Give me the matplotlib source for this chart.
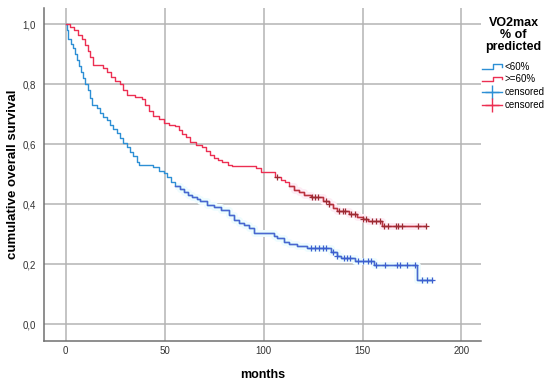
import numpy as np
import matplotlib
matplotlib.use('Agg')
import matplotlib.pyplot as plt
from matplotlib.lines import Line2D
from matplotlib.legend_handler import HandlerBase
from matplotlib.ticker import FuncFormatter

plt.rcParams['font.family'] = ['Liberation Sans', 'DejaVu Sans']

# Kaplan-Meier steps (time in months, survival after the step)
low_t = [0, 0.7, 1.3, 2.5, 3.5, 4.5, 5.6, 6.5, 7.5, 8.5, 9.5, 11, 12, 13.2, 15.7, 17.5, 19,
         20.8, 22.5, 24, 26, 27.5, 29, 31, 32.6, 34, 36, 37, 44, 47, 49.5, 51, 53, 55, 57.5,
         60, 62, 64, 66.5, 68, 71.6, 75, 78.3, 82.5, 85, 87.5, 90, 92.7, 95.2, 105.4, 107,
         110.4, 113, 117, 122, 134, 137, 139, 146, 156, 177.7, 185]
low_s = [1.0, 0.98, 0.95, 0.935, 0.92, 0.90, 0.88, 0.86, 0.84, 0.82, 0.80, 0.78, 0.755, 0.73,
         0.72, 0.705, 0.69, 0.68, 0.665, 0.65, 0.637, 0.62, 0.603, 0.59, 0.575, 0.56, 0.541,
         0.532, 0.525, 0.51, 0.503, 0.49, 0.475, 0.462, 0.45, 0.44, 0.432, 0.425, 0.418, 0.41,
         0.398, 0.39, 0.381, 0.364, 0.348, 0.337, 0.33, 0.32, 0.303, 0.295, 0.287, 0.275,
         0.268, 0.262, 0.253, 0.239, 0.228, 0.22, 0.211, 0.198, 0.148, 0.148]
low_cens = [124, 126, 128, 130, 131.5, 135, 137, 140.4, 142, 143.7, 147.7, 150, 152.8, 154.5,
            157, 161.3, 167.2, 169, 172.3, 176.5, 180, 182.5, 185]

high_t = [0, 2, 4, 6, 8, 9.5, 11, 12.5, 14, 19, 21, 23, 25, 27.5, 29, 31, 35, 38.5, 40, 42,
          44, 47, 49.5, 52, 55, 57, 59, 61, 63, 66, 69, 71, 73, 75, 77, 79, 82, 84, 96, 98.5,
          106, 109, 111, 113, 115.5, 118, 120.5, 124, 130, 133, 135, 137, 143, 147, 150, 153,
          160, 182]
high_s = [1.0, 0.99, 0.98, 0.965, 0.95, 0.93, 0.91, 0.89, 0.865, 0.855, 0.84, 0.825, 0.81,
          0.80, 0.78, 0.765, 0.758, 0.75, 0.73, 0.71, 0.695, 0.685, 0.672, 0.665, 0.66, 0.648,
          0.635, 0.625, 0.608, 0.598, 0.59, 0.578, 0.564, 0.555, 0.548, 0.54, 0.53, 0.526,
          0.52, 0.508, 0.49, 0.482, 0.475, 0.462, 0.448, 0.44, 0.43, 0.423, 0.41, 0.40, 0.388,
          0.378, 0.368, 0.358, 0.352, 0.344, 0.327, 0.327]
high_cens = [107, 124.5, 126, 127.5, 131.5, 133, 138, 140, 141, 144, 146, 150, 152, 155, 157,
             159, 161, 163, 167, 168, 170, 178, 182]

x_ticks = [0, 50, 100, 150, 200]
y_ticks = [0.0, 0.2, 0.4, 0.6, 0.8, 1.0]
labels = ['<60%', '>=60%', 'censored', 'censored']

blue = '#2d8fd5'
red = '#ec2f52'
blue_late = '#4a66d0'
red_late = '#b8333f'
blue_mark = '#3d5fcf'
red_mark = '#9b2b33'


def step_value(t, s, x):
    i = np.searchsorted(t, x, side='right') - 1
    return np.asarray(s)[i]


def late_part(t, s, start):
    t = np.asarray(t)
    m = t >= start
    return t[m], np.asarray(s)[m]


class StepHandler(HandlerBase):
    def create_artists(self, legend, orig, xd, yd, w, h, fontsize, trans):
        xs = [-xd, -xd + w * 0.55, -xd + w * 0.55, -xd + w, -xd + w]
        ys = [-yd + h * 0.15, -yd + h * 0.15, -yd + h * 0.75, -yd + h * 0.75, -yd + h * 0.45]
        ln = Line2D(xs, ys, color=orig.get_color(), lw=1.0, transform=trans)
        return [ln]


fig = plt.figure(figsize=(5.5, 3.83), dpi=100)
ax = fig.add_axes([0.08, 0.11, 0.795, 0.869])

# pale halo along the later part of each curve
bt, bs = late_part(low_t, low_s, 55)
rt, rs = late_part(high_t, high_s, 113)
ax.step(bt, bs, where='post', color='#effcfe', lw=5, zorder=2, solid_capstyle='butt')
ax.step(rt, rs, where='post', color='#fdedf5', lw=5, zorder=2, solid_capstyle='butt')

ax.step(low_t, low_s, where='post', color=blue, lw=1.0, zorder=3)
ax.step(high_t, high_s, where='post', color=red, lw=1.0, zorder=3)
ax.step(bt, bs, where='post', color=blue_late, lw=1.0, zorder=3)
ax.step(rt, rs, where='post', color=red_late, lw=1.0, zorder=3)
ax.plot(low_cens, step_value(low_t, low_s, low_cens), ls='none', marker='+', ms=5,
        mew=0.9, color=blue_mark, zorder=4)
ax.plot(high_cens, step_value(high_t, high_s, high_cens), ls='none', marker='+', ms=5,
        mew=0.9, color=red_mark, zorder=4)

ax.set_xlim(-11, 210)
ax.set_ylim(-0.056, 1.054)
ax.set_xticks(x_ticks)
ax.set_yticks(y_ticks)
ax.yaxis.set_major_formatter(FuncFormatter(lambda v, p: f'{v:.1f}'.replace('.', ',')))
ax.grid(True, color='#b4b4b4', lw=1.1)
ax.set_axisbelow(True)
ax.tick_params(length=0, labelsize=7, colors='#333333')
ax.tick_params(axis='x', pad=4)
ax.tick_params(axis='y', pad=6)
for side in ['top', 'right']:
    ax.spines[side].set_visible(False)
for side in ['left', 'bottom']:
    ax.spines[side].set_color('#707070')
    ax.spines[side].set_linewidth(1.1)

ax.set_xlabel('months', fontsize=9, fontweight='bold', labelpad=9)
ax.set_ylabel('cumulative overall survival', fontsize=9.5, fontweight='bold', labelpad=2)

handles = [Line2D([], [], color=blue), Line2D([], [], color=red),
           Line2D([], [], color=blue, lw=1.0, marker='+', ms=10, mew=1.0),
           Line2D([], [], color=red, lw=1.0, marker='+', ms=10, mew=1.0)]
leg = fig.legend(handles, labels, loc='upper left', bbox_to_anchor=(0.877, 0.955),
                 frameon=False, fontsize=7, title='VO2max\n% of\npredicted',
                 title_fontproperties={'weight': 'bold', 'size': 9},
                 handler_map={handles[0]: StepHandler(), handles[1]: StepHandler()},
                 handlelength=2.0, handletextpad=0.3, labelspacing=0.3,
                 borderpad=0, borderaxespad=0)
leg._legend_box.align = 'center'
leg._legend_box.sep = 6
leg.get_title().set_linespacing(1.0)
leg.get_title().set_multialignment('center')

fig.savefig('out.png', dpi=100)
